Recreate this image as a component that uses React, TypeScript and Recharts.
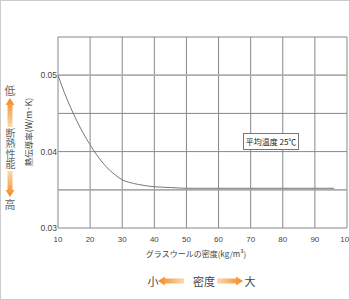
import React from "react";
import {
  LineChart,
  Line,
  XAxis,
  YAxis,
  CartesianGrid,
  ReferenceLine,
} from "recharts";

// グラスウールの密度 (kg/m3) と 熱伝導率 (W/m·K)
const density = [10, 12, 14, 16, 18, 20, 22, 24, 26, 28, 30, 32, 35, 40, 45, 50, 60, 70, 80, 90, 96];
const conductivity = [
  0.05, 0.0477, 0.0457, 0.0439, 0.0423, 0.0409, 0.0396, 0.0385, 0.0376, 0.0369,
  0.0363, 0.036, 0.0357, 0.0354, 0.0353, 0.0352, 0.0352, 0.0352, 0.0352, 0.0352, 0.0352,
];
const xTicks = [10, 20, 30, 40, 50, 60, 70, 80, 90, 100];
const yTicks = [0.03, 0.035, 0.04, 0.045, 0.05, 0.055];

const yLabel = "熱伝導率(W/m·K)";
const xLabel = "グラスウールの密度(kg/m³)";
const noteLabel = "平均温度 25℃";
const sideLabel = "断熱性能";

const data = density.map((d, i) => ({ density: d, k: conductivity[i] }));

const JP = '"Noto Sans CJK JP", "Noto Sans", sans-serif';
const NUM = '"Liberation Sans", Arial, sans-serif';

const fmtY = (v: number) => {
  const r = Math.round(v * 1000);
  return r % 10 === 0 ? v.toFixed(2) : "";
};

// upright characters stacked top to bottom, starting at y
const VText = ({ t, x, y, size, color }: { t: string; x: number; y: number; size: number; color: string }) => (
  <div
    style={{
      position: "absolute",
      left: x - size / 2,
      top: y,
      width: size,
      lineHeight: `${size}px`,
      fontSize: size,
      color,
      fontFamily: JP,
      writingMode: "vertical-rl",
      textOrientation: "upright",
      letterSpacing: 0.5,
      whiteSpace: "nowrap",
    }}
  >
    {t}
  </div>
);

const Overlay = () => (
  <svg
    width={350}
    height={300}
    style={{ position: "absolute", left: 0, top: 0, pointerEvents: "none" }}
  >
    <defs>
      <linearGradient id="upG" x1="0" y1="0" x2="0" y2="1">
        <stop offset="0%" stopColor="#f08a20" />
        <stop offset="100%" stopColor="#fcd9b0" />
      </linearGradient>
      <linearGradient id="downG" x1="0" y1="0" x2="0" y2="1">
        <stop offset="0%" stopColor="#fcd9b0" />
        <stop offset="100%" stopColor="#f08a20" />
      </linearGradient>
      <linearGradient id="leftG" x1="0" y1="0" x2="1" y2="0">
        <stop offset="0%" stopColor="#f08a20" />
        <stop offset="100%" stopColor="#fcd9b0" />
      </linearGradient>
      <linearGradient id="rightG" x1="0" y1="0" x2="1" y2="0">
        <stop offset="0%" stopColor="#fcd9b0" />
        <stop offset="100%" stopColor="#f08a20" />
      </linearGradient>
    </defs>
    <rect x={0.5} y={0.5} width={349} height={299} fill="none" stroke="#ccc" />

    {/* y axis title */}
    <text
      x={28}
      y={132}
      transform="rotate(-90 28 132)"
      textAnchor="middle"
      dominantBaseline="central"
      fontSize={8.5}
      fill="#444"
      fontFamily={JP}
    >
      {yLabel}
    </text>

    {/* 低 / 断熱性能 / 高 */}
    <text x={10} y={90} textAnchor="middle" dominantBaseline="central" fontSize={11} fill="#666" fontFamily={JP}>
      低
    </text>
    <polygon points="10,98 14.5,105 12.5,105 12.5,127 7.5,127 7.5,105 5.5,105" fill="url(#upG)" />
    <polygon points="7.5,171 12.5,171 12.5,190 14.5,190 10,197 5.5,190 7.5,190" fill="url(#downG)" />
    <text x={10} y={204} textAnchor="middle" dominantBaseline="central" fontSize={11} fill="#666" fontFamily={JP}>
      高
    </text>

    {/* x axis title */}
    <text x={196} y={253} textAnchor="middle" dominantBaseline="central" fontSize={8} fill="#444" fontFamily={JP}>
      {xLabel}
    </text>

    {/* 小 ← 密度 → 大 */}
    <text x={153} y={281} textAnchor="middle" dominantBaseline="central" fontSize={11} fill="#444" fontFamily={JP}>
      小
    </text>
    <polygon points="158,281 165,276.5 165,278.5 184,278.5 184,283.5 165,283.5 165,285.5" fill="url(#leftG)" />
    <text x={204} y={281} textAnchor="middle" dominantBaseline="central" fontSize={11} fill="#444" fontFamily={JP}>
      密度
    </text>
    <polygon points="217,278.5 236,278.5 236,276.5 243,281 236,285.5 236,283.5 217,283.5" fill="url(#rightG)" />
    <text x={250} y={281} textAnchor="middle" dominantBaseline="central" fontSize={11} fill="#444" fontFamily={JP}>
      大
    </text>

    {/* note box */}
    <rect x={243.5} y={133.5} width={55} height={16} fill="#fff" stroke="#777" />
    <text x={271} y={141.5} textAnchor="middle" dominantBaseline="central" fontSize={8} fill="#222" fontFamily={JP}>
      {noteLabel}
    </text>
  </svg>
);

export default function App() {
  return (
    <div
      style={{
        position: "absolute",
        left: 0,
        top: 0,
        width: 350,
        height: 300,
        background: "#fff",
      }}
    >
      <LineChart
        width={350}
        height={300}
        data={data}
        margin={{ top: 37, right: 3, bottom: 52, left: 0 }}
      >
        <CartesianGrid stroke="#888" strokeWidth={1} />
        <ReferenceLine y={0.05} stroke="#b3aba4" strokeWidth={1.5} />
        <ReferenceLine y={0.035} stroke="#aaa" strokeWidth={1.2} />
        <XAxis
          dataKey="density"
          type="number"
          domain={[10, 100]}
          ticks={xTicks}
          height={20}
          axisLine={false}
          tickLine={false}
          tickSize={0}
          tickMargin={8}
          tick={{ fontSize: 8, fill: "#444", fontFamily: NUM }}
          interval={0}
          allowDataOverflow
        />
        <YAxis
          type="number"
          domain={[0.03, 0.055]}
          ticks={yTicks}
          width={58}
          axisLine={false}
          tickLine={false}
          tickSize={0}
          tickMargin={1}
          tickFormatter={fmtY}
          tick={{ fontSize: 8.5, fill: "#444", fontFamily: NUM }}
          interval={0}
          allowDataOverflow
        />
        <Line
          type="monotone"
          dataKey="k"
          stroke="#777"
          strokeWidth={1}
          dot={false}
          isAnimationActive={false}
        />
      </LineChart>
      <Overlay />
      <VText t={sideLabel} x={10} y={128} size={10} color="#666" />
    </div>
  );
}
